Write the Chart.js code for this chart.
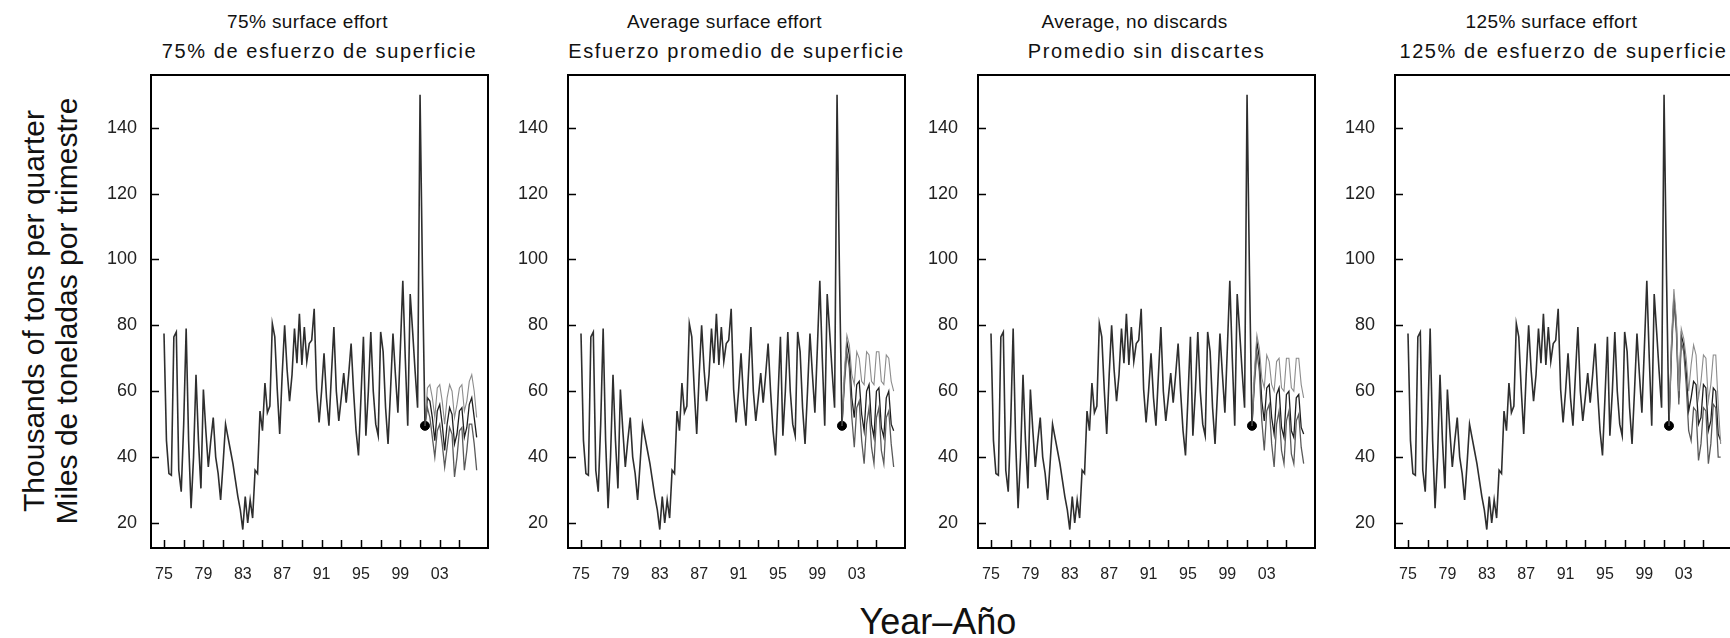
<!DOCTYPE html>
<html>
<head>
<meta charset="utf-8">
<script src="https://cdn.jsdelivr.net/npm/chart.js@4"></script>
<style>
  body { margin: 0; width: 1730px; height: 638px; overflow: hidden; background: #fff;
         font-family: "Liberation Sans", Arial, sans-serif; color: #111; position: relative; }
  .panel { position: absolute; top: 70px; }
  .ttl { position: absolute; width: 500px; text-align: center; white-space: nowrap; line-height: 28px; }
  .l1 { top: 8px; font-size: 19px; letter-spacing: 0.4px; }
  .l2 { top: 37px; font-size: 20px; letter-spacing: 1.6px; }
  .ytitle { position: absolute; left: -200px; top: 278px; width: 500px; height: 66px;
            text-align: center; font-size: 30px; line-height: 33px; transform: rotate(-90deg); }
  .xtitle { position: absolute; left: 738px; top: 600px; width: 400px; text-align: center;
            font-size: 36px; line-height: 44px; }
</style>
</head>
<body>
<div class="ytitle">Thousands of tons per quarter<br>Miles de toneladas por trimestre</div>
<div class="xtitle">Year–Año</div>

<script>
// quarterly catch 1975 Q1 .. 2001 Q3 (thousands of tons)
const histCatch = [
  77.5, 45, 35, 34.5,   76.5, 78, 36, 29.5,   50, 79, 45, 24.5,   40, 65, 45, 30.5,
  60.5, 48, 37, 45,     52, 40, 35, 27,       38, 50, 46, 42,     38, 33, 28, 24,
  18, 28, 20, 27,       21.5, 36, 35, 54,     48, 62.5, 53.5, 55.5, 80.5, 76.5, 60.5, 47,
  65, 80, 66.5, 57,     65, 79, 68.5, 83.5,   68, 79.5, 69, 74.5, 75.5, 85, 60.5, 50.5,
  60, 71.5, 58, 49.5,   65, 79.5, 60, 51,     58, 65.5, 56.5, 65, 74.5, 60, 48, 40.5,
  58, 76.5, 46.5, 60,   78, 60, 50, 46.5,     78, 72, 55, 44,     60, 77.5, 65, 53.5,
  73, 93.5, 70, 49.5,   89.5, 78, 66, 55,     150, 95, 49.5
];
const histStart = 1975;

// projections, quarterly from 2001 Q3
const projStart = 2001.5;
const lastObs = 49.5;

const upper75 = [49.5, 61, 62, 58, 52, 61, 62, 57, 50, 58, 62, 60, 52, 56, 61, 62, 54, 57, 63, 65, 60, 52];
const mid75   = [49.5, 58, 57, 52, 45, 54, 56, 50, 42, 50, 55, 53, 44, 47, 54, 55, 46, 49, 56, 58, 52, 46];
const lower75 = [49.5, 55, 52, 46, 40, 48, 50, 44, 37, 43, 49, 47, 34, 40, 48, 49, 36, 42, 50, 50, 44, 36];

const upperAvg = [49.5, 66, 77, 74, 65, 62, 72, 70, 63, 62, 72, 71, 63, 62, 72, 72, 63, 62, 71, 70, 63, 60];
const midAvg   = [49.5, 64, 75, 71, 58, 52, 62, 63, 53, 48, 60, 62, 50, 46, 60, 61, 49, 46, 58, 60, 50, 48];
const lowerAvg = [49.5, 62, 72, 67, 52, 43, 55, 57, 45, 38, 50, 55, 43, 38, 52, 55, 42, 38, 52, 54, 44, 37];

const upperNoDisc = [49.5, 66, 77, 73, 64, 61, 71, 69, 62, 60, 69, 70, 61, 60, 70, 70, 61, 60, 70, 70, 62, 58];
const midNoDisc   = [49.5, 64, 75, 70, 57, 51, 61, 62, 52, 47, 59, 61, 49, 46, 59, 60, 48, 46, 58, 59, 49, 47];
const lowerNoDisc = [49.5, 62, 72, 66, 51, 42, 54, 56, 44, 37, 50, 54, 42, 38, 51, 54, 41, 38, 51, 53, 43, 38];

const upper125 = [49.5, 75, 91, 82, 60, 79, 76, 70, 60, 68, 74, 71, 58, 63, 71, 70, 57, 62, 71, 71, 56, 44];
const mid125   = [49.5, 73, 89, 80, 58, 77, 74, 66, 54, 58, 63, 62, 50, 52, 62, 61, 48, 51, 61, 60, 47, 45];
const lower125 = [49.5, 71, 87, 78, 56, 75, 72, 62, 48, 45, 55, 54, 39, 44, 55, 54, 38, 44, 56, 55, 40, 40];

const panelTitles = [
  ["75% surface effort", "75% de esfuerzo de superficie"],
  ["Average surface effort", "Esfuerzo promedio de superficie"],
  ["Average, no discards", "Promedio sin discartes"],
  ["125% surface effort", "125% de esfuerzo de superficie"]
];
const projections = [
  [upper75, mid75, lower75],
  [upperAvg, midAvg, lowerAvg],
  [upperNoDisc, midNoDisc, lowerNoDisc],
  [upper125, mid125, lower125]
];

const yearTicks = [1975, 1977, 1979, 1981, 1983, 1985, 1987, 1989, 1991, 1993, 1995, 1997, 1999, 2001, 2003, 2005];
const yearLabels = ["75", "", "79", "", "83", "", "87", "", "91", "", "95", "", "99", "", "03", ""];
const catchTicks = [20, 40, 60, 80, 100, 120, 140];

// layout
const panelLeft = [151, 568, 978, 1395];
const labelGap = [14, 20, 20, 20];
const plotW = 337, plotH = 473, axisW = 60, axisH = 45;

const histPts = histCatch.map((v, i) => ({ x: histStart + i / 4, y: v }));

const frame = {
  id: 'frame',
  afterDraw(chart) {
    const { ctx, chartArea: a, scales: { x, y } } = chart;
    ctx.save();
    ctx.strokeStyle = '#000';
    ctx.lineWidth = 2;
    ctx.strokeRect(a.left, a.top, a.right - a.left, a.bottom - a.top);
    ctx.lineWidth = 1.5;
    ctx.beginPath();
    x.ticks.forEach(t => {
      const px = Math.round(x.getPixelForValue(t.value)) + 0.5;
      ctx.moveTo(px, a.bottom); ctx.lineTo(px, a.bottom - 8);
    });
    y.ticks.forEach(t => {
      const py = Math.round(y.getPixelForValue(t.value)) + 0.5;
      ctx.moveTo(a.left, py); ctx.lineTo(a.left + 8, py);
    });
    ctx.stroke();
    ctx.restore();
  }
};

// keep the plot box fixed: no extra room for edge labels
const noEdgePad = s => { s.paddingTop = 0; s.paddingBottom = 0; s.paddingLeft = 0; s.paddingRight = 0; };

panelTitles.forEach((ttl, k) => {
  const mid = panelLeft[k] + plotW / 2;
  const t1 = document.createElement('div');
  t1.className = 'ttl l1';
  t1.style.left = (mid - 250 - 12) + 'px';
  t1.textContent = ttl[0];
  document.body.appendChild(t1);
  const t2 = document.createElement('div');
  t2.className = 'ttl l2';
  t2.style.left = (mid - 250) + 'px';
  t2.textContent = ttl[1];
  document.body.appendChild(t2);

  const wrap = document.createElement('div');
  wrap.className = 'panel';
  wrap.style.left = (panelLeft[k] - axisW) + 'px';
  const cv = document.createElement('canvas');
  cv.width = axisW + plotW + 5;
  cv.height = plotH + 5 + axisH;
  wrap.appendChild(cv);
  document.body.appendChild(wrap);

  const proj = projections[k];
  const projLine = (arr, color, w) => ({
    data: arr.map((v, i) => ({ x: projStart + i / 4, y: v })),
    borderColor: color, borderWidth: w, pointRadius: 0, tension: 0
  });

  new Chart(cv, {
    type: 'line',
    data: {
      datasets: [
        { data: histPts, borderColor: '#2e2e2e', borderWidth: 1.6, pointRadius: 0, tension: 0 },
        projLine(proj[0], '#8c8c8c', 1.1),
        projLine(proj[2], '#5a5a5a', 1.3),
        projLine(proj[1], '#1e1e1e', 1.3),
        { data: [{ x: projStart, y: lastObs }], showLine: false, pointRadius: 4.5,
          pointBackgroundColor: '#000', pointBorderColor: '#000' }
      ]
    },
    options: {
      responsive: false,
      animation: false,
      layout: { padding: { top: 5, right: 5, left: 0, bottom: 0 }, autoPadding: false },
      plugins: { legend: { display: false }, tooltip: { enabled: false }, title: { display: false } },
      scales: {
        x: {
          type: 'linear', min: 1973.68, max: 2007.9,
          grid: { display: false, drawTicks: false }, border: { display: false },
          afterBuildTicks: s => { s.ticks = yearTicks.map(v => ({ value: v })); },
          afterFit: s => { s.height = axisH; noEdgePad(s); },
          ticks: { autoSkip: false, maxRotation: 0, padding: 17, color: '#222',
                   font: { family: '"Liberation Sans", Arial', size: 16 },
                   callback: (v, i) => yearLabels[i] }
        },
        y: {
          min: 12.4, max: 156,
          grid: { display: false, drawTicks: false }, border: { display: false },
          afterBuildTicks: s => { s.ticks = catchTicks.map(v => ({ value: v })); },
          afterFit: s => { s.width = axisW; noEdgePad(s); },
          ticks: { padding: labelGap[k], color: '#222', font: { family: '"Liberation Sans", Arial', size: 18 } }
        }
      }
    },
    plugins: [frame]
  });
});
</script>
</body>
</html>
